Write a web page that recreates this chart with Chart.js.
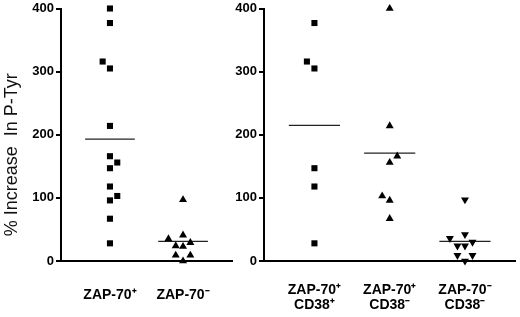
<!DOCTYPE html>
<html>
<head>
<meta charset="utf-8">
<script src="https://cdn.jsdelivr.net/npm/chart.js@4"></script>
<style>
  html, body { margin: 0; padding: 0; background: #fff; }
  #wrap { position: relative; width: 520px; height: 317px; }
  #left { position: absolute; left: 0; top: 0; width: 240px; height: 317px; }
  #right { position: absolute; left: 230px; top: 0; width: 290px; height: 317px; }
</style>
</head>
<body>
<div id="wrap">
  <div id="left"><canvas id="c1"></canvas></div>
  <div id="right"><canvas id="c2"></canvas></div>
</div>
<script>
// left panel
const leftLabels = ["ZAP-70\u207A", "ZAP-70\u207B"];
const zapPos = [400, 377, 316, 305, 214, 166, 156, 147, 118, 103, 96, 67, 28];
const zapPosJit = [0, 0, -1, 0, 0, 0, 1, 0, 0, 1, 0, 0, 0];
const zapNeg = [97, 41, 35, 29, 24, 23, 9, 9, 0];
const zapNegJit = [0, 0, -2, 1, -1, 0, -1, 1, 0];
const leftMeans = [193, 31];

// right panel
const rightLabels = [["ZAP-70\u207A", "CD38\u207A"], ["ZAP-70\u207A", "CD38\u207B"], ["ZAP-70\u207B", "CD38\u207B"]];
const posPos = [377, 316, 305, 147, 118, 28];
const posPosJit = [0, -1, 0, 0, 0, 0];
const posNeg = [400, 214, 166, 156, 103, 96, 67];
const posNegJit = [0, 0, 1, 0, -1, 0, 0];
const negNeg = [97, 42, 36, 30, 24, 24, 9, 9, 0];
const negNegJit = [0, 0, -2, 1, -1, 0, -1, 1, 0];
const rightMeans = [215, 171, 31];

const yTicks = [0, 100, 200, 300, 400];

const JIT = 0.1;   // horizontal spread of overlapping points
const HALF = 0.34; // half length of the mean bar

function pts(vals, jit, cat) {
  return vals.map((v, i) => ({ x: cat + jit[i] * JIT, y: v }));
}

function dotSet(vals, jit, cat, style, rot) {
  return {
    data: pts(vals, jit, cat),
    pointStyle: style,
    rotation: rot || 0,
    pointRadius: style === "rect" ? 4.3 : 4.6,
    backgroundColor: "#000",
    borderColor: "#000",
    borderWidth: 0,
    showLine: false,
    clip: false
  };
}

function meanSet(m, cat) {
  return {
    data: [{ x: cat - HALF, y: m }, { x: cat + HALF, y: m }],
    showLine: true,
    pointRadius: 0,
    borderColor: "#222",
    borderWidth: 1.2
  };
}

function makeChart(id, labels, datasets, yWidth, showTitle, rightPad, tickPad, xMax) {
  return new Chart(document.getElementById(id), {
    type: "scatter",
    data: { datasets: datasets },
    options: {
      responsive: true,
      maintainAspectRatio: false,
      animation: false,
      events: [],
      layout: { padding: { top: 6, right: rightPad, left: 0, bottom: 0 } },
      plugins: { legend: { display: false }, tooltip: { enabled: false } },
      scales: {
        x: {
          type: "linear",
          min: 0.33,
          max: xMax,
          afterBuildTicks: (axis) => { axis.ticks = labels.map((l, i) => ({ value: i + 1 })); },
          afterFit: (s) => { s.height = 56; },
          grid: { display: false, drawTicks: false },
          border: { display: true, color: "#000", width: 2 },
          ticks: {
            autoSkip: false,
            maxRotation: 0,
            padding: tickPad,
            color: "#000",
            font: { family: "Liberation Sans, Arial, sans-serif", size: 14, weight: "bold", lineHeight: 1.1 },
            callback: (v, i) => labels[i]
          }
        },
        y: {
          min: 0,
          max: 400,
          afterBuildTicks: (axis) => { axis.ticks = yTicks.map((v) => ({ value: v })); },
          afterFit: (s) => { s.width = yWidth; },
          grid: { display: true, drawOnChartArea: false, drawTicks: true, tickLength: 5, color: "#000", lineWidth: 2 },
          border: { display: true, color: "#000", width: 2 },
          ticks: {
            padding: 2,
            color: "#000",
            font: { family: "Liberation Sans, Arial, sans-serif", size: 13, weight: "bold", lineHeight: 1.0 }
          },
          title: {
            display: showTitle,
            text: "% Increase  In P-Tyr        ",
            color: "#111",
            padding: { top: 1, bottom: 0 },
            font: { family: "Liberation Sans, Arial, sans-serif", size: 18 }
          }
        }
      }
    }
  });
}

makeChart("c1", leftLabels, [
  dotSet(zapPos, zapPosJit, 1, "rect"),
  dotSet(zapNeg, zapNegJit, 2, "triangle"),
  meanSet(leftMeans[0], 1),
  meanSet(leftMeans[1], 2)
], 61, true, 8, 26, 2.67);

makeChart("c2", rightLabels, [
  dotSet(posPos, posPosJit, 1, "rect"),
  dotSet(posNeg, posNegJit, 2, "triangle"),
  dotSet(negNeg, negNegJit, 3, "triangle", 180),
  meanSet(rightMeans[0], 1),
  meanSet(rightMeans[1], 2),
  meanSet(rightMeans[2], 3)
], 34, false, 0, 21, 3.67);
</script>
</body>
</html>
